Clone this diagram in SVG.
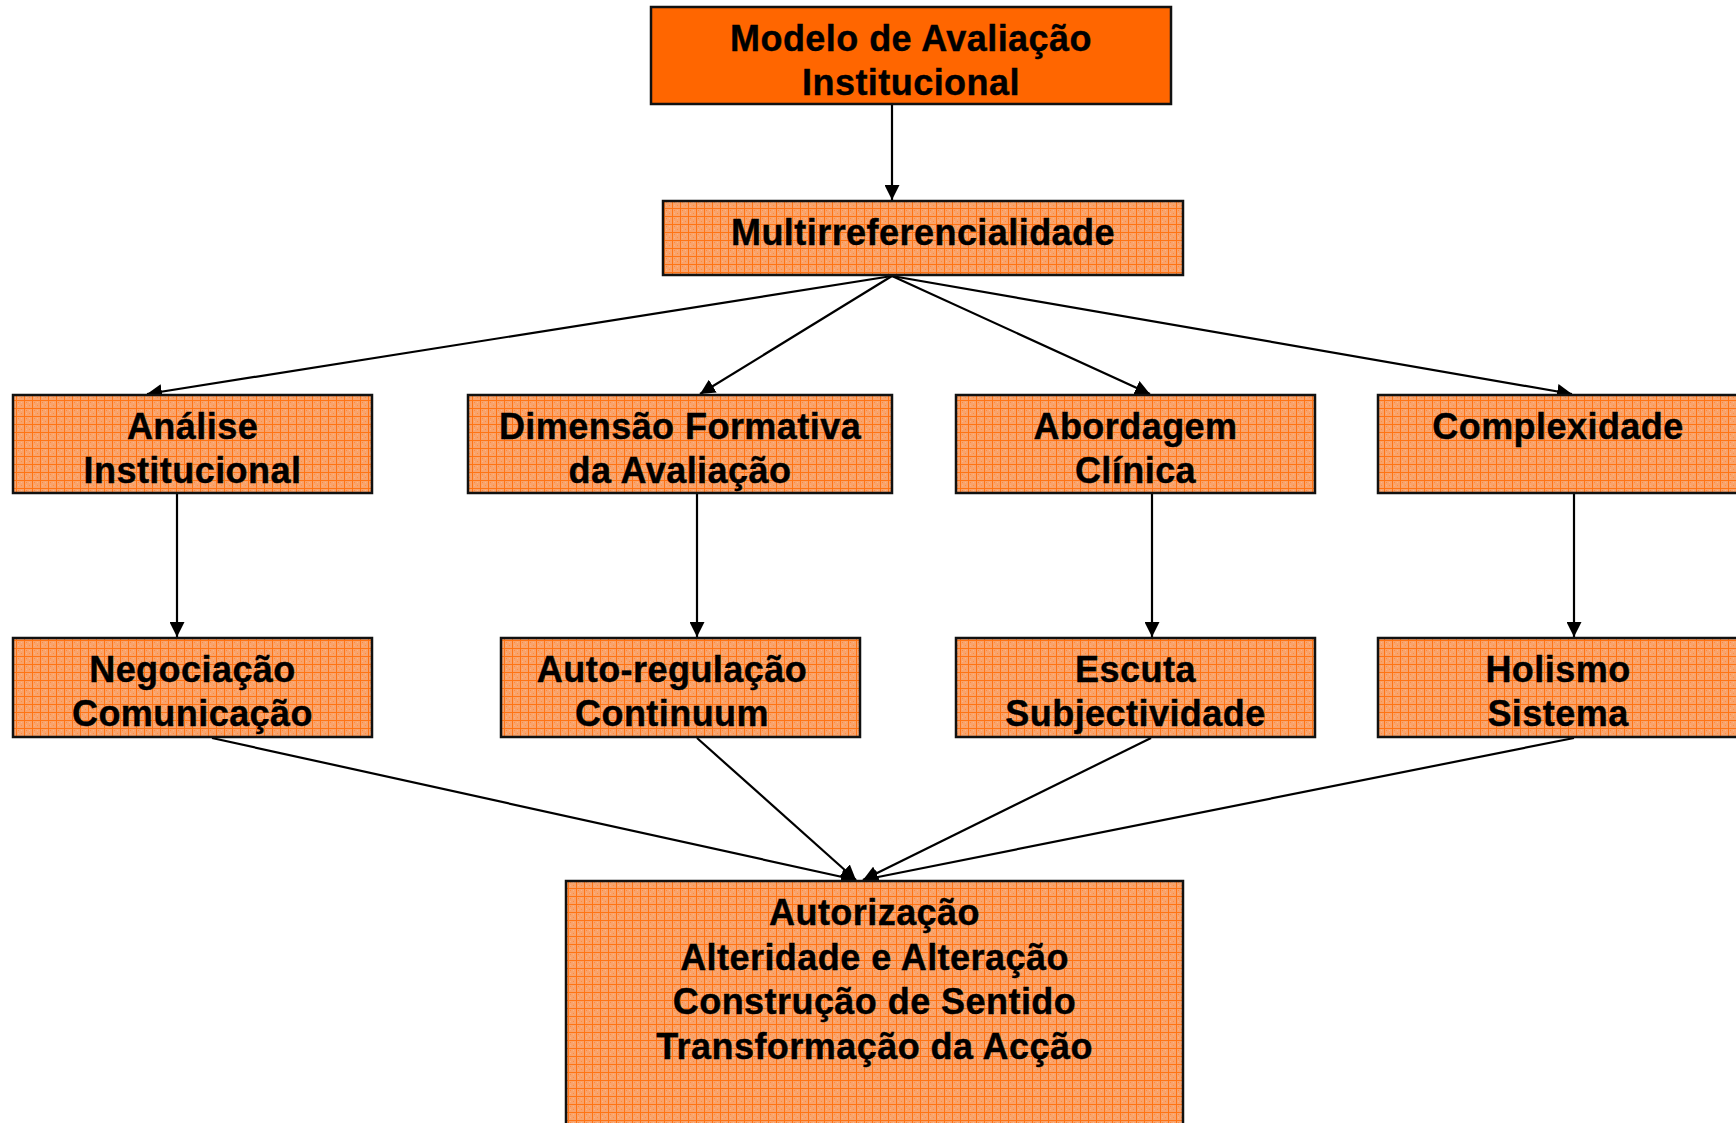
<svg xmlns="http://www.w3.org/2000/svg" width="1736" height="1123" viewBox="0 0 1736 1123">
<style>
.box{stroke:#111;stroke-width:2.5}
.pat{fill:url(#grid)}
.solid{fill:#FF6600}
.t{font-family:"Liberation Sans",Arial,sans-serif;font-weight:bold;font-size:36px;letter-spacing:0.45px;fill:#000;stroke:#000;stroke-width:0.4;text-anchor:middle}
.c{fill:none;stroke:#000;stroke-width:2.2;marker-end:url(#ah)}
</style>
<defs>
<pattern id="grid" width="8" height="8" patternUnits="userSpaceOnUse">
<rect width="8" height="8" fill="#F9A36B"/>
<rect x="2" y="2" width="1" height="1" fill="#FF8A3C"/>
<rect x="5" y="5" width="1" height="1" fill="#FF8A3C"/>
<rect x="5" y="2" width="1" height="1" fill="#FBB588"/>
<rect x="2" y="5" width="1" height="1" fill="#FBB588"/>
<rect x="0" y="0" width="8" height="1" fill="#FF7414"/>
<rect x="0" y="0" width="1" height="8" fill="#FF7414"/>
</pattern>
<marker id="ah" markerUnits="userSpaceOnUse" markerWidth="16" markerHeight="15" refX="15" refY="7.5" orient="auto">
<path d="M0,0 L15,7.5 L0,15 z" fill="#000"/>
</marker>
</defs>

<g id="connectors">
<line class="c" x1="892" y1="105" x2="892" y2="200"/>
<line class="c" x1="892" y1="276" x2="147" y2="394"/>
<line class="c" x1="892" y1="276" x2="700" y2="394"/>
<line class="c" x1="892" y1="276" x2="1150" y2="394"/>
<line class="c" x1="892" y1="276" x2="1572" y2="394"/>
<line class="c" x1="177" y1="494" x2="177" y2="637"/>
<line class="c" x1="697" y1="494" x2="697" y2="637"/>
<line class="c" x1="1152" y1="494" x2="1152" y2="637"/>
<line class="c" x1="1574" y1="494" x2="1574" y2="637"/>
<line class="c" x1="212" y1="738" x2="856" y2="880"/>
<line class="c" x1="697" y1="738" x2="856" y2="880"/>
<line class="c" x1="1151" y1="738" x2="863" y2="880"/>
<line class="c" x1="1574" y1="738" x2="863" y2="880"/>
</g>

<g id="n-modelo">
<rect class="box solid" x="651" y="7" width="520" height="97"/>
<text class="t" x="911" y="51">Modelo de Avaliação</text>
<text class="t" x="911" y="95">Institucional</text>
</g>

<g id="n-multi">
<rect class="box pat" x="663" y="201" width="520" height="74"/>
<text class="t" x="923" y="245">Multirreferencialidade</text>
</g>

<g id="n-analise">
<rect class="box pat" x="13" y="395" width="359" height="98"/>
<text class="t" x="192.5" y="439">Análise</text>
<text class="t" x="192.5" y="483">Institucional</text>
</g>

<g id="n-dimensao">
<rect class="box pat" x="468" y="395" width="424" height="98"/>
<text class="t" x="680" y="439">Dimensão Formativa</text>
<text class="t" x="680" y="483">da Avaliação</text>
</g>

<g id="n-abordagem">
<rect class="box pat" x="956" y="395" width="359" height="98"/>
<text class="t" x="1135.5" y="439">Abordagem</text>
<text class="t" x="1135.5" y="483">Clínica</text>
</g>

<g id="n-complexidade">
<rect class="box pat" x="1378" y="395" width="360" height="98"/>
<text class="t" x="1558" y="439">Complexidade</text>
</g>

<g id="n-negociacao">
<rect class="box pat" x="13" y="638" width="359" height="99"/>
<text class="t" x="192.5" y="682">Negociação</text>
<text class="t" x="192.5" y="726">Comunicação</text>
</g>

<g id="n-autoregulacao">
<rect class="box pat" x="501" y="638" width="359" height="99"/>
<text class="t" x="672" y="682">Auto-regulação</text>
<text class="t" x="672" y="726">Continuum</text>
</g>

<g id="n-escuta">
<rect class="box pat" x="956" y="638" width="359" height="99"/>
<text class="t" x="1135.5" y="682">Escuta</text>
<text class="t" x="1135.5" y="726">Subjectividade</text>
</g>

<g id="n-holismo">
<rect class="box pat" x="1378" y="638" width="360" height="99"/>
<text class="t" x="1558" y="682">Holismo</text>
<text class="t" x="1558" y="726">Sistema</text>
</g>

<g id="n-autorizacao">
<rect class="box pat" x="566" y="881" width="617" height="260"/>
<text class="t" x="874.5" y="925">Autorização</text>
<text class="t" x="874.5" y="970">Alteridade e Alteração</text>
<text class="t" x="874.5" y="1014">Construção de Sentido</text>
<text class="t" x="874.5" y="1059">Transformação da Acção</text>
</g>
</svg>
